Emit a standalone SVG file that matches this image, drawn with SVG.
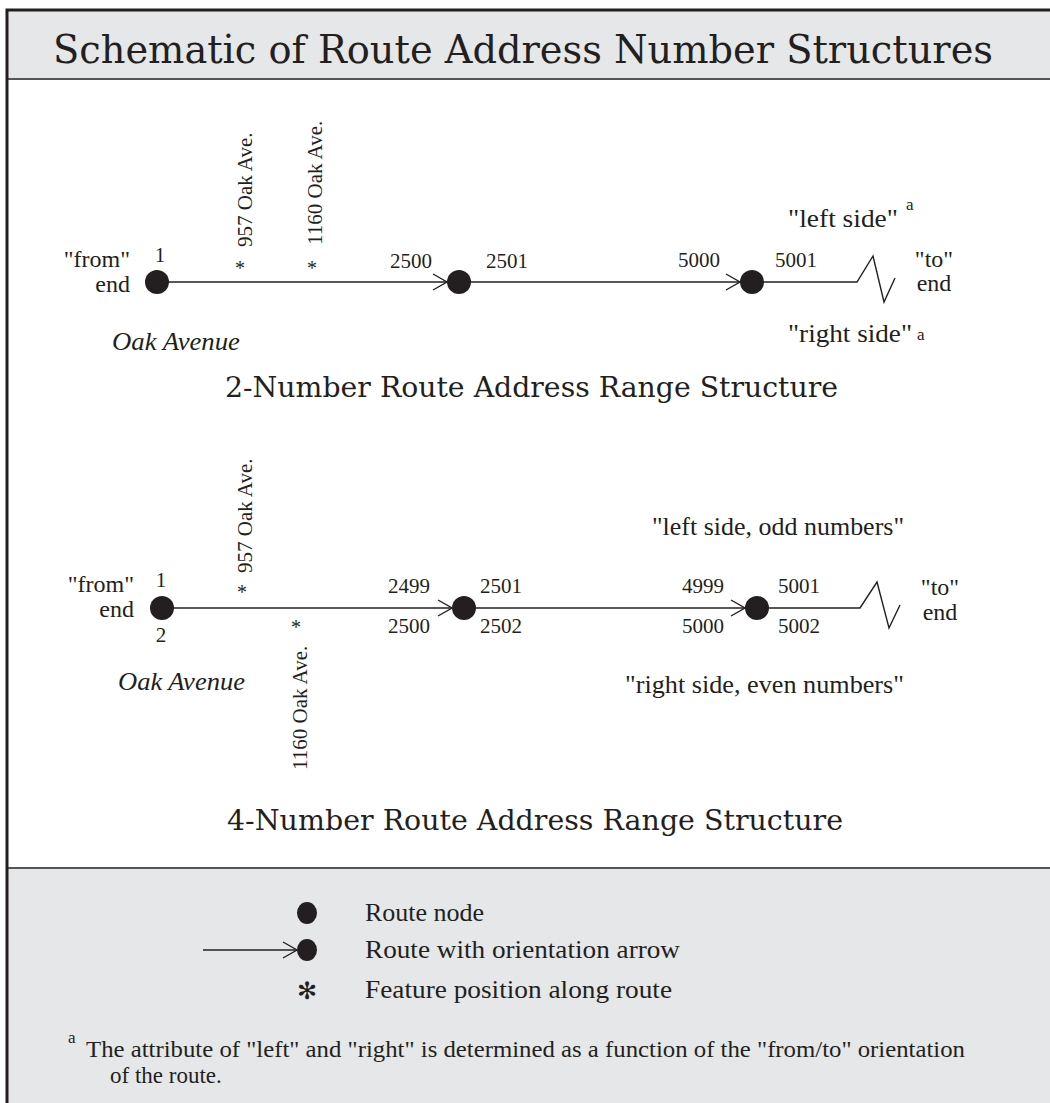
<svg xmlns="http://www.w3.org/2000/svg" width="1050" height="1103" viewBox="0 0 1050 1103">
<style>
.t{font-family:"Liberation Serif","Times New Roman",serif;fill:#231f20}
.h{font-family:"DejaVu Serif","Liberation Serif",serif;fill:#231f20}
.num{font-size:21px}
.lab{font-size:24px}
.side{font-size:26px}
.sup{font-size:17px}
.rot{font-size:21px}
.ast{font-size:20px}
.it{font-size:26px;font-style:italic}
.leg{font-size:26px}
.dot{fill:#231f20}
.ln{stroke:#231f20;stroke-width:1.4;fill:none}
</style>
<defs>
<marker id="chev" markerUnits="userSpaceOnUse" viewBox="0 0 16 18" markerWidth="16" markerHeight="18" refX="15" refY="9" orient="auto">
<path d="M1,1 L15,9 L1,17" fill="none" stroke="#231f20" stroke-width="1.4"/>
</marker>
</defs>
<rect x="0" y="0" width="1050" height="1103" fill="#ffffff"/>
<g id="frame">
<rect x="7" y="10" width="1043" height="69" fill="#e6e7e9"/>
<rect x="7" y="868" width="1043" height="235" fill="#e6e7e9"/>
<line x1="7" y1="79" x2="1050" y2="79" stroke="#555555" stroke-width="2"/>
<line x1="7" y1="868" x2="1050" y2="868" stroke="#555555" stroke-width="2"/>
<path d="M7,1103 V10 H1050" fill="none" stroke="#231f20" stroke-width="3"/>
</g>
<g id="title">
<text class="h" x="53" y="63" font-size="40" textLength="940" lengthAdjust="spacingAndGlyphs">Schematic of Route Address Number Structures</text>
</g>

<g id="connectors">
<line class="ln" x1="157" y1="282" x2="447" y2="282" marker-end="url(#chev)"/>
<line class="ln" x1="459" y1="282" x2="740" y2="282" marker-end="url(#chev)"/>
<path class="ln" d="M752,282 H857 L873,256 L884,302 L895,278"/>
<line class="ln" x1="162" y1="608" x2="452" y2="608" marker-end="url(#chev)"/>
<line class="ln" x1="464" y1="608" x2="745" y2="608" marker-end="url(#chev)"/>
<path class="ln" d="M757,608 H860 L877,582 L889,628 L900,605"/>
<line class="ln" x1="203" y1="950" x2="297" y2="950" marker-end="url(#chev)"/>
</g>

<g id="diagram-2-number">
<g id="n2-from">
<circle class="dot" cx="157" cy="282" r="12"/>
<text class="t lab" x="130" y="267" text-anchor="end">"from"</text>
<text class="t lab" x="130" y="292" text-anchor="end">end</text>
<text class="t num" x="160" y="262" text-anchor="middle">1</text>
</g>
<g id="n2-mid1">
<circle class="dot" cx="459" cy="282" r="12"/>
<text class="t num" x="390" y="268">2500</text>
<text class="t num" x="486" y="268">2501</text>
</g>
<g id="n2-mid2">
<circle class="dot" cx="752" cy="282" r="12"/>
<text class="t num" x="678" y="267">5000</text>
<text class="t num" x="775" y="267">5001</text>
</g>
<g id="n2-to">
<text class="t lab" x="934" y="267" text-anchor="middle">"to"</text>
<text class="t lab" x="934" y="291" text-anchor="middle">end</text>
<text class="t side" x="788" y="227" textLength="110" lengthAdjust="spacingAndGlyphs">"left side"</text>
<text class="t sup" x="906" y="210">a</text>
<text class="t side" x="788" y="342" textLength="124" lengthAdjust="spacingAndGlyphs">"right side"</text>
<text class="t sup" x="917" y="340">a</text>
</g>
<g id="n2-features">
<text class="t ast" x="240" y="275" text-anchor="middle">*</text>
<text class="t ast" x="312" y="275" text-anchor="middle">*</text>
<text class="t rot" transform="translate(252,247) rotate(-90)">957 Oak Ave.</text>
<text class="t rot" transform="translate(322,245) rotate(-90)">1160 Oak Ave.</text>
<text class="t it" x="112" y="350" textLength="128" lengthAdjust="spacingAndGlyphs">Oak Avenue</text>
</g>
<text class="h" x="225" y="397" font-size="27" textLength="613" lengthAdjust="spacingAndGlyphs">2-Number Route Address Range Structure</text>
</g>

<g id="diagram-4-number">
<g id="n4-from">
<circle class="dot" cx="162" cy="608" r="12"/>
<text class="t lab" x="134" y="592" text-anchor="end">"from"</text>
<text class="t lab" x="134" y="617" text-anchor="end">end</text>
<text class="t num" x="161" y="587" text-anchor="middle">1</text>
<text class="t num" x="161" y="642" text-anchor="middle">2</text>
</g>
<g id="n4-mid1">
<circle class="dot" cx="464" cy="608" r="12"/>
<text class="t num" x="388" y="593">2499</text>
<text class="t num" x="388" y="633">2500</text>
<text class="t num" x="480" y="593">2501</text>
<text class="t num" x="480" y="633">2502</text>
</g>
<g id="n4-mid2">
<circle class="dot" cx="757" cy="608" r="12"/>
<text class="t num" x="682" y="593">4999</text>
<text class="t num" x="682" y="633">5000</text>
<text class="t num" x="778" y="593">5001</text>
<text class="t num" x="778" y="633">5002</text>
</g>
<g id="n4-to">
<text class="t lab" x="940" y="595" text-anchor="middle">"to"</text>
<text class="t lab" x="940" y="620" text-anchor="middle">end</text>
<text class="t side" x="652" y="535" textLength="252" lengthAdjust="spacingAndGlyphs">"left side, odd numbers"</text>
<text class="t side" x="625" y="693" textLength="279" lengthAdjust="spacingAndGlyphs">"right side, even numbers"</text>
</g>
<g id="n4-features">
<text class="t ast" x="242" y="599" text-anchor="middle">*</text>
<text class="t ast" x="296" y="634" text-anchor="middle">*</text>
<text class="t rot" transform="translate(252,573) rotate(-90)">957 Oak Ave.</text>
<text class="t rot" transform="translate(307,770) rotate(-90)">1160 Oak Ave.</text>
<text class="t it" x="118" y="690" textLength="127" lengthAdjust="spacingAndGlyphs">Oak Avenue</text>
</g>
<text class="h" x="227" y="830" font-size="27" textLength="616" lengthAdjust="spacingAndGlyphs">4-Number Route Address Range Structure</text>
</g>

<g id="legend">
<g id="legend-node">
<ellipse class="dot" cx="307" cy="913" rx="10" ry="11"/>
<text class="t leg" x="365" y="921">Route node</text>
</g>
<g id="legend-arrow">
<ellipse class="dot" cx="307" cy="950" rx="10" ry="11"/>
<text class="t leg" x="365" y="958" textLength="315" lengthAdjust="spacingAndGlyphs">Route with orientation arrow</text>
</g>
<g id="legend-feature">
<text x="307" y="999" text-anchor="middle" font-family="DejaVu Sans, sans-serif" font-size="24" fill="#231f20">✻</text>
<text class="t leg" x="365" y="998" textLength="307" lengthAdjust="spacingAndGlyphs">Feature position along route</text>
</g>
<g id="footnote">
<text class="t sup" x="68" y="1043">a</text>
<text class="t" x="86" y="1057" font-size="23" textLength="879" lengthAdjust="spacingAndGlyphs">The attribute of "left" and "right" is determined as a function of the "from/to" orientation</text>
<text class="t" x="110" y="1083" font-size="23">of the route.</text>
</g>
</g>
</svg>
